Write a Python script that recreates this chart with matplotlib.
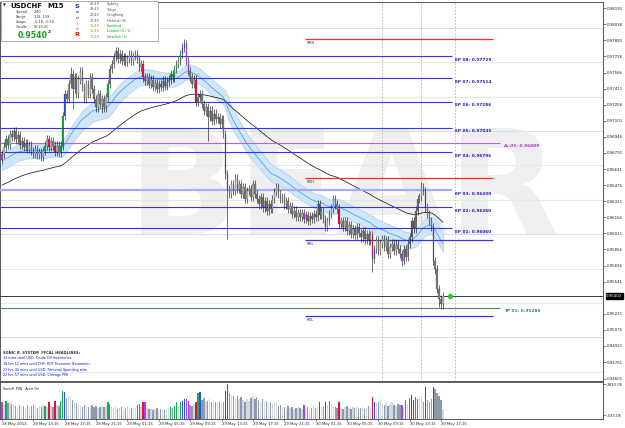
import numpy as np
import matplotlib
matplotlib.use("Agg")
import matplotlib.pyplot as plt

W, H = 625, 428

# USDCHF M15 closes, one per bar, 28 May 09:15 .. 30 May 17:15
closes = [
    0.9678, 0.9685, 0.9692, 0.9687, 0.9697, 0.9694, 0.9700, 0.9692, 0.9696, 0.9687,
    0.9690, 0.9685, 0.9688, 0.9683, 0.9686, 0.9681, 0.9678, 0.9683, 0.9677, 0.9680,
    0.9675, 0.9681, 0.9686, 0.9692, 0.9685, 0.9690, 0.9686, 0.9680, 0.9686, 0.9679,
    0.9686, 0.9715, 0.9736, 0.9731, 0.9746, 0.9755, 0.9741, 0.9752, 0.9736, 0.9750,
    0.9758, 0.9743, 0.9731, 0.9746, 0.9736, 0.9752, 0.9741, 0.9731, 0.9723, 0.9736,
    0.9726, 0.9731, 0.9723, 0.9733, 0.9746, 0.9760, 0.9765, 0.9772, 0.9778, 0.9770,
    0.9775, 0.9768, 0.9772, 0.9767, 0.9770, 0.9775, 0.9768, 0.9773, 0.9775, 0.9770,
    0.9762, 0.9765, 0.9752, 0.9749, 0.9752, 0.9746, 0.9750, 0.9743, 0.9747, 0.9741,
    0.9746, 0.9743, 0.9749, 0.9744, 0.9748, 0.9750, 0.9755, 0.9752, 0.9760, 0.9765,
    0.9768, 0.9775, 0.9781, 0.9784, 0.9768, 0.9758, 0.9752, 0.9746, 0.9750, 0.9728,
    0.9733, 0.9736, 0.9726, 0.9720, 0.9723, 0.9714, 0.9720, 0.9710, 0.9717, 0.9712,
    0.9714, 0.9707, 0.9712, 0.9697, 0.9658, 0.9644, 0.9639, 0.9649, 0.9642, 0.9654,
    0.9644, 0.9649, 0.9639, 0.9646, 0.9634, 0.9642, 0.9644, 0.9636, 0.9649, 0.9639,
    0.9634, 0.9629, 0.9636, 0.9626, 0.9632, 0.9623, 0.9629, 0.9625, 0.9634, 0.9641,
    0.9646, 0.9639, 0.9634, 0.9636, 0.9629, 0.9632, 0.9625, 0.9627, 0.9620, 0.9623,
    0.9617, 0.9621, 0.9617, 0.9621, 0.9615, 0.9619, 0.9613, 0.9618, 0.9615, 0.9620,
    0.9617, 0.9629, 0.9619, 0.9622, 0.9615, 0.9607, 0.9613, 0.9620, 0.9625, 0.9634,
    0.9629, 0.9625, 0.9610, 0.9613, 0.9607, 0.9613, 0.9603, 0.9609, 0.9600, 0.9605,
    0.9599, 0.9607, 0.9601, 0.9597, 0.9603, 0.9595, 0.9600, 0.9594, 0.9599, 0.9576,
    0.9586, 0.9594, 0.9584, 0.9591, 0.9595, 0.9588, 0.9594, 0.9581, 0.9588, 0.9591,
    0.9584, 0.9590, 0.9586, 0.9581, 0.9574, 0.9586, 0.9578, 0.9591, 0.9597, 0.9613,
    0.9605, 0.9623, 0.9634, 0.9636, 0.9646, 0.9642, 0.9626, 0.9620, 0.9613, 0.9607,
    0.9574, 0.9566, 0.9547, 0.9537, 0.9532, 0.9540,
]
first_open = 0.9672

# SonicR PVA volume, one per bar
volumes = [
    970, 700, 1140, 880, 1050, 790, 700, 620, 530, 700,
    530, 620, 440, 700, 530, 620, 700, 530, 440, 620,
    530, 700, 620, 530, 970, 620, 530, 1140, 700, 620,
    1140, 2110, 2020, 1400, 1580, 1500, 1230, 1050, 880, 700,
    620, 530, 700, 620, 530, 620, 700, 530, 620, 440,
    530, 620, 530, 620, 1050, 790, 530, 440, 620, 350,
    440, 530, 350, 440, 530, 350, 440, 530, 440, 700,
    790, 530, 970, 1050, 440, 350, 350, 260, 350, 440,
    260, 350, 350, 260, 350, 440, 530, 440, 620, 970,
    530, 970, 1140, 1320, 1320, 1140, 700, 620, 790, 1050,
    1940, 2020, 1230, 1400, 1050, 1140, 1320, 1050, 1230, 970,
    1050, 1140, 880, 1050, 2110, 2810, 1940, 1760, 1580, 1400,
    1670, 1320, 1500, 1230, 1050, 1320, 1140, 1400, 1580, 1320,
    1500, 1230, 1050, 1320, 970, 1140, 880, 1050, 790, 970,
    880, 620, 700, 440, 530, 350, 620, 440, 530, 350,
    440, 530, 440, 350, 700, 440, 530, 350, 440, 620,
    440, 530, 970, 530, 620, 970, 700, 1140, 790, 620,
    530, 440, 970, 440, 350, 530, 620, 440, 350, 530,
    440, 620, 350, 440, 530, 350, 440, 620, 530, 1500,
    1050, 880, 1050, 1230, 790, 700, 880, 620, 790, 970,
    700, 620, 790, 700, 700, 530, 1230, 790, 1400, 1760,
    1230, 1500, 1320, 1500, 1670, 1050, 2550, 1230, 1050, 1320,
    2550, 2290, 1940, 1580, 1230, 350,
]

# PVA coloured bars (bar index -> kind)
pva = {0: "purple", 2: "green", 22: "green", 24: "red", 27: "red", 30: "green",
       31: "green", 32: "blue", 54: "green", 55: "green", 69: "purple", 70: "purple",
       72: "red", 73: "purple", 86: "green", 88: "green", 89: "green", 91: "green",
       92: "blue", 93: "blue", 94: "purple", 95: "purple", 99: "red", 100: "green",
       101: "blue", 114: "red", 115: "red", 154: "purple", 162: "red", 165: "red",
       167: "green", 172: "red", 189: "red", 190: "blue", 204: "purple", 206: "purple",
       208: "green", 209: "blue", 210: "red", 211: "green", 212: "green", 216: "red",
       220: "red"}

# long wicks
high_tails = {93: 0.9789, 214: 0.9651, 35: 0.9762, 58: 0.9782}
low_tails = {115: 0.9595, 105: 0.9690, 36: 0.9721, 51: 0.9718, 189: 0.9563,
             204: 0.9569, 224: 0.9528, 223: 0.9530}

time_labels = ["28 May 2013", "28 May 13:15", "28 May 17:15", "28 May 21:15",
               "29 May 01:15", "29 May 05:15", "29 May 09:15", "29 May 13:15",
               "29 May 17:15", "29 May 21:15", "30 May 01:15", "30 May 05:15",
               "30 May 09:15", "30 May 13:15", "30 May 17:15"]
price_ticks = [0.98191, 0.98036, 0.97881, 0.97726, 0.97566, 0.97411, 0.97256,
               0.97101, 0.96946, 0.96791, 0.96631, 0.96476, 0.96321, 0.96166,
               0.96011, 0.95856, 0.95696, 0.95541, 0.95231, 0.95076, 0.94921,
               0.94761, 0.94601]
last_price = 0.95402
vol_ticks = [2810.05, -333.05]

ep_names = ["EP 08", "EP 07", "EP 06", "EP 05", "EP 04", "EP 03", "EP 02", "EP 01"]
ep_values = [0.97729, 0.97514, 0.97286, 0.97035, 0.96796, 0.96430, 0.96260, 0.96060]
av_value = 0.96889
tp_value = 0.95289
range_names = ["RMH", "RDH", "RML", "RDL"]
range_values = [0.97893, 0.96546, 0.95945, 0.95208]
round_levels = [0.98, 0.97, 0.96, 0.95]
third_levels = [0.97667, 0.97333, 0.96667, 0.96333, 0.95667, 0.95333, 0.94667]
event_bars = [194, 214, 231]

info_names = ["Spread", "Range", "Swaps", "Candle"]
info_values = ["2.40", "128, 133", "-0.18, -0.50", "00:10:31"]
session_times = ["00:49", "23:49", "22:49", "17:49", "16:49", "15:49", "10:49"]
session_cities = ["Sydney", "Tokyo", "HongKong", "Helsinki (S)", "Frankfurt",
                  "London (G+1)", "NewYork (L)"]
headlines = ["12 mins until USD: Crude Oil Inventories",
             "18 hrs 12 mins until CHF: KOF Economic Barometer",
             "21 hrs 42 mins until USD: Personal Spending m/m",
             "22 hrs 57 mins until USD: Chicago PMI"]

PVA_COL = {"green": "#12b04a", "red": "#e6103c", "blue": "#2a48ff", "purple": "#b43cf0"}


def fx(x):
    return x / W


def fy(y):
    return 1 - y / H


def ema(vals, n, seed):
    k = 2.0 / (n + 1)
    out = []
    prev = seed
    for v in vals:
        prev = prev + k * (v - prev)
        out.append(prev)
    return np.array(out)


n = len(closes)
idx = np.arange(n)
opens = [first_open] + closes[:-1]
WICK = 0.0004
highs = [high_tails.get(i, max(opens[i], closes[i]) + WICK) for i in range(n)]
lows = [low_tails.get(i, min(opens[i], closes[i]) - WICK) for i in range(n)]

dragon_hi = ema(highs, 34, 0.9679)
dragon_mid = ema(closes, 34, 0.9671)
dragon_lo = ema(lows, 34, 0.9662)
trend = ema(closes, 89, 0.9647)

fig = plt.figure(figsize=(W / 100, H / 100), dpi=100, facecolor="white")
ax = fig.add_axes([0, fy(381), fx(603), (381 - 2) / H])
axv = fig.add_axes([0, fy(419), fx(603), 37 / H])

x_left = -2 / 1.96
x_right = (603 - 2) / 1.96
ax.set_xlim(x_left, x_right)
ax.set_ylim(last_price - (381 - 296) / 10317, last_price + (296 - 2) / 10317)

# watermark
ax.text(fx(344), fy(194), "BEAR", transform=fig.transFigure, fontsize=104,
        fontweight="bold", color="#efefef", ha="center", va="center", zorder=0)

for lv in round_levels:
    ax.axhline(lv, color="#dcdcf6", lw=0.8, zorder=1)
for lv in third_levels:
    ax.axhline(lv, color="#dceedd", lw=0.8, zorder=1)
for b in event_bars:
    ax.axvline(b, color="#b4b4b4", lw=0.6, ls=(0, (2, 2)), zorder=1)

# dragon band + trend line
ax.fill_between(idx, dragon_lo, dragon_hi, color="#cfe5f8", lw=0.6,
                edgecolor="#b3d5f2", zorder=2)
ax.plot(idx, dragon_mid, color="#3c96e6", lw=0.5, zorder=3)
ax.plot(idx, trend, color="#1e1e1e", lw=0.55, zorder=3)

# levels
for name, v in zip(ep_names, ep_values):
    if name == "EP 03":
        ax.hlines(v, x_left, 229.6, color="#a7acf0", lw=1.6, zorder=4)
    else:
        ax.hlines(v, x_left, 229.6, color="#3434f0", lw=0.8, zorder=4)
    ax.annotate(f"{name}: {v:.5f}", (231, v), xytext=(0, -2.6), textcoords="offset points",
                fontsize=3.1, fontweight="bold", color="#1c1cc8", ha="left", va="center")
ax.hlines(av_value, x_left, 254, color="#b068d2", lw=0.8, zorder=4)
ax.annotate(f"Av 01: {av_value:.5f}", (256, av_value), xytext=(0, -2.6),
            textcoords="offset points", fontsize=3.1, fontweight="bold",
            fontstyle="italic", color="#a23cc8", ha="left", va="center")
ax.hlines(tp_value, x_left, 254, color="#3c8c64", lw=0.8, zorder=4)
ax.annotate(f"TP 01: {tp_value:.5f}", (256, tp_value), xytext=(0, -2.6),
            textcoords="offset points", fontsize=3.1, fontweight="bold",
            color="#2e8b57", ha="left", va="center")
for name, v in zip(range_names, range_values):
    c = "#ff2a1a" if name in ("RMH", "RDH") else "#3434f0"
    ax.hlines(v, 154.6, 250.5, color=c, lw=0.9, zorder=4)
    ax.annotate(name, (155.5, v), xytext=(0, -2.8), textcoords="offset points",
                fontsize=2.5, color="#2a2a50", ha="left", va="center")
ax.axhline(last_price, color="#3a3a3a", lw=0.7, zorder=4)

# candles
for i in range(n):
    o, c = opens[i], closes[i]
    if i in pva:
        body = PVA_COL[pva[i]]
    else:
        body = "#b4b4b4" if c >= o else "#7a7a7a"
    ax.vlines(i, lows[i], highs[i], color="#1e1e1e", lw=0.45, zorder=5)
    ax.bar(i, max(abs(c - o), 0.00004), bottom=min(o, c), width=0.7,
           color=body, edgecolor="#3a3a3a", lw=0.15, zorder=6)
ax.plot(228.6, last_price, "o", ms=2.8, color="#22cc22", zorder=7)

ax.set_xticks([])
ax.yaxis.tick_right()
ax.set_yticks(price_ticks)
ax.set_yticklabels([f"{v:.5f}" for v in price_ticks])
ax.tick_params(axis="y", labelsize=2.8, length=2, width=0.4, pad=1, colors="#202020")
ax.annotate(f"{last_price:.5f}", (1.0, last_price), xycoords=("axes fraction", "data"),
            xytext=(2.3, 0), textcoords="offset points", fontsize=2.8, color="white",
            ha="left", va="center", bbox=dict(boxstyle="square,pad=0.15", fc="black", ec="black"))
for s in ax.spines.values():
    s.set_color("#404040")
    s.set_linewidth(0.6)

# headlines
fig.text(fx(3), fy(352.7), "SONIC R. SYSTEM  FFCAL HEADLINES:", fontsize=2.6,
         fontweight="bold", color="#303030", va="center")
for k, line in enumerate(headlines):
    fig.text(fx(3), fy(358.3 + 5.7 * k), line, fontsize=2.4, color="#1010c0", va="center")

# volume panel
vol_floor = -700
axv.set_xlim(x_left, x_right)
axv.set_ylim(vol_floor, 3040)
vcols = []
for i in range(n):
    if i in pva:
        vcols.append(PVA_COL[pva[i]])
    else:
        vcols.append("#d3d7de" if closes[i] >= opens[i] else "#8d99ad")
axv.bar(idx, np.array(volumes) - vol_floor, bottom=vol_floor, width=0.7, color=vcols, lw=0)
axv.text(0.005, 0.82, "SonicR PVA   Alert On", transform=axv.transAxes, fontsize=2.4,
         color="#202020", va="center")
axv.yaxis.tick_right()
axv.set_yticks(vol_ticks)
axv.set_yticklabels([f"{v:.2f}" for v in vol_ticks])
axv.tick_params(axis="y", labelsize=2.8, length=2, width=0.4, pad=1, colors="#202020")
axv.set_xticks(np.arange(0, 16 * len(time_labels), 16))
axv.set_xticklabels(time_labels, ha="left")
axv.tick_params(axis="x", labelsize=2.7, length=1.5, width=0.4, pad=0.8, colors="#202020")
for s in axv.spines.values():
    s.set_color("#404040")
    s.set_linewidth(0.6)

# info box
fig.patches.append(plt.Rectangle((fx(0.5), fy(41)), fx(157), 40.5 / H, transform=fig.transFigure,
                                 fc="white", ec="#a0a0a0", lw=0.6, zorder=8))
fig.text(fx(3), fy(5.5), "\u25bc", fontsize=2.6, color="#202020", va="center", zorder=9)
fig.text(fx(10), fy(5.5), "USDCHF", fontsize=5, fontweight="bold", color="#101010",
         va="center", zorder=9)
fig.text(fx(47), fy(5.5), "M15", fontsize=5, fontweight="bold", color="#101010",
         va="center", zorder=9)
for k, (nm, vv) in enumerate(zip(info_names, info_values)):
    fig.text(fx(16), fy(12 + 5 * k), nm, fontsize=2.4, color="#303030", va="center", zorder=9)
    fig.text(fx(34), fy(12 + 5 * k), vv, fontsize=2.4, color="#303030", va="center", zorder=9)
fig.text(fx(18), fy(35), "0.9540", fontsize=5.6, fontweight="bold", color="#1a9a1a",
         va="center", zorder=9)
fig.text(fx(48), fy(32), "2", fontsize=3, fontweight="bold", color="#101010",
         va="center", zorder=9)
sonic = [("S", "#1030e0", 6), ("o", "#3050e0", 12), ("n", "#8a50c8", 18),
         ("i", "#e060a0", 24), ("c", "#f04080", 29), ("R", "#e01010", 35)]
for ch, col, yy in sonic:
    big = ch in ("S", "R")
    fig.text(fx(77), fy(yy), ch, fontsize=4.6 if big else 3.2, fontweight="bold",
             color=col, ha="center", va="center", zorder=9)
for k, (t, city) in enumerate(zip(session_times, session_cities)):
    late = k >= 4
    fig.text(fx(90), fy(4 + 5.5 * k), t, fontsize=2.4, color="#c07a20" if late else "#505050",
             va="center", zorder=9)
    fig.text(fx(107), fy(4 + 5.5 * k), city, fontsize=2.4,
             color="#1fa01f" if late else "#505050", va="center", zorder=9)

fig.savefig("out.png", dpi=100)
